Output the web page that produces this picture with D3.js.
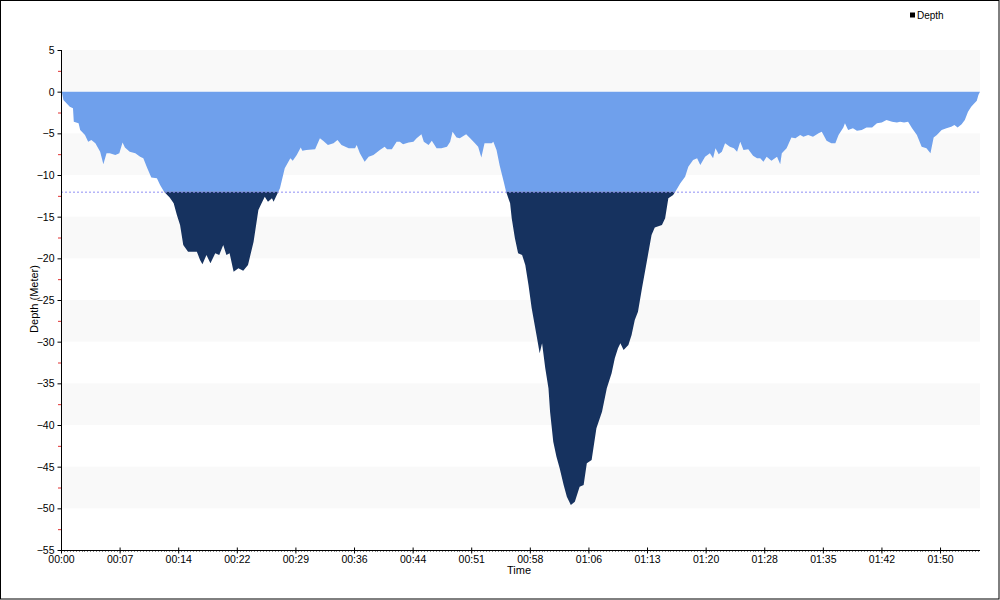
<!DOCTYPE html>
<html>
<head>
<meta charset="utf-8">
<script src="https://cdn.jsdelivr.net/npm/d3@7"></script>
<style>
  body { margin: 0; background: #fff; }
  svg { display: block; font-family: "Liberation Sans", Arial, sans-serif; }
</style>
</head>
<body>
<svg id="chart" width="1000" height="600"></svg>
<script>
// ---- data (time in minutes, depth in meters) ----
const timeMin = [0,0.1,0.3,1.1,1.5,1.6,2.2,2.4,3.0,3.4,3.8,4.3,4.9,5.3,5.7,6.1,6.8,7.3,7.7,8.0,8.6,9.3,9.9,10.3,10.8,11.3,12.0,12.4,12.9,13.6,14.1,14.5,14.9,15.3,15.9,17.0,17.4,17.7,18.2,18.7,19.3,19.8,20.3,20.7,21.1,21.6,22.2,22.8,23.4,24.1,24.7,25.1,25.5,25.9,26.4,26.6,27.0,27.4,28.0,28.7,29.0,29.5,30.0,30.2,30.7,31.8,32.4,32.8,33.4,34.1,34.6,35.1,36.0,36.8,37.0,37.4,38.0,38.5,39.1,39.9,40.5,40.8,41.4,42.0,42.4,42.8,43.5,44.1,44.5,45.1,45.4,46.0,46.4,47.0,47.6,48.3,48.7,49.0,49.5,49.9,50.7,51.2,51.8,52.2,52.6,53.0,53.9,54.1,54.5,54.9,55.4,55.7,56.2,56.4,56.8,57.2,57.7,58.1,58.5,58.9,59.5,59.9,60.2,60.6,61.0,61.2,61.6,62.0,62.4,62.9,63.3,63.8,64.3,64.9,65.4,65.8,66.4,67.0,67.7,68.3,68.9,69.3,69.7,70.0,70.4,71.0,71.4,71.8,72.2,72.7,73.3,73.9,74.3,75.2,75.6,76.0,76.6,77.0,77.5,78.1,78.5,79.1,79.6,80.0,80.6,81.2,81.6,81.9,82.3,82.7,83.1,83.7,84.2,84.6,85.0,85.4,86.0,86.6,87.1,87.5,87.9,88.3,88.9,89.6,90.0,90.2,90.8,91.4,91.9,92.5,92.9,93.5,94.1,94.8,95.2,95.8,96.4,96.9,97.3,97.9,98.1,98.5,99.1,99.6,100.2,100.8,101.5,102.1,102.7,103.3,104.0,104.6,105.0,105.5,106.0,106.5,107.1,107.7,108.3,108.8,109.2,109.6,110.2,110.8,111.4,111.8,112.2,112.7,113.1,113.5,113.9,114.3,114.6,114.8,115.0];
const depthM = [0,0,-1.0,-1.8,-2.0,-3.6,-3.8,-4.6,-5.2,-6.0,-5.8,-6.2,-7.2,-8.7,-7.4,-7.4,-7.6,-7.4,-6.1,-6.7,-7.2,-7.4,-7.8,-8.0,-9.2,-10.3,-10.4,-11.2,-12.0,-12.7,-13.4,-14.8,-16.0,-18.4,-19.2,-19.2,-20.2,-20.7,-19.6,-20.6,-19.4,-19.6,-18.4,-19.6,-19.4,-21.6,-21.2,-21.5,-20.8,-18.0,-14.2,-13.4,-12.6,-13.2,-12.8,-13.2,-12.4,-11.6,-9.2,-8.0,-8.3,-7.6,-6.7,-7.1,-7.0,-6.9,-5.6,-5.9,-6.4,-6.2,-5.8,-6.4,-6.8,-6.8,-6.4,-7.4,-8.4,-7.8,-7.6,-7.0,-6.6,-6.9,-6.9,-6.0,-6.0,-6.3,-6.1,-6.0,-5.6,-5.1,-6.0,-6.4,-5.9,-6.8,-6.8,-6.6,-6.0,-4.8,-5.5,-5.6,-5.1,-5.6,-6.2,-6.6,-7.9,-6.2,-6.2,-6.0,-7.0,-8.9,-10.8,-12.0,-13.4,-15.2,-17.6,-19.4,-19.6,-20.8,-23.2,-26.0,-29.2,-31.4,-30.2,-33.2,-35.6,-38.4,-42.0,-43.8,-45.2,-47.2,-48.6,-49.6,-49.2,-47.4,-47.2,-44.6,-44.2,-40.4,-38.4,-35.6,-33.8,-32.0,-30.8,-30.2,-31.0,-30.4,-29.2,-27.4,-26.4,-23.6,-20.4,-17.2,-16.3,-16.0,-15.2,-12.8,-12.4,-11.8,-11.0,-10.2,-9.0,-8.2,-8.0,-8.8,-7.8,-7.4,-8.0,-6.8,-7.5,-7.2,-6.2,-6.6,-6.8,-7.2,-6.0,-7.0,-6.9,-7.7,-8.0,-8.0,-8.4,-7.8,-8.3,-7.8,-8.7,-7.4,-6.8,-5.5,-5.6,-5.2,-5.4,-5.2,-5.4,-5.0,-4.8,-5.9,-6.2,-6.2,-5.2,-4.3,-3.8,-4.6,-4.4,-4.7,-4.6,-4.3,-4.3,-3.8,-3.7,-3.4,-3.6,-3.7,-3.6,-3.7,-3.6,-4.4,-5.2,-6.6,-6.8,-7.4,-5.5,-5.2,-4.6,-4.4,-4.2,-4.0,-4.3,-3.9,-3.4,-2.4,-1.8,-1.4,-1.1,-0.4,0];
const threshold = -12;
const xTickMinutes = [0, 7.333, 14.667, 22, 29.333, 36.667, 44, 51.333, 58.667, 66, 73.333, 80.667, 88, 95.333, 102.667, 110];
const xTickLabels = ["00:00","00:07","00:14","00:22","00:29","00:36","00:44","00:51","00:58","01:06","01:13","01:20","01:28","01:35","01:42","01:50"];
const yTicks = [5,0,-5,-10,-15,-20,-25,-30,-35,-40,-45,-50,-55];
const yMinorTicks = [2.5,-2.5,-7.5,-12.5,-17.5,-22.5,-27.5,-32.5,-37.5,-42.5,-47.5,-52.5];
const bandRanges = [[5,0],[-5,-10],[-15,-20],[-25,-30],[-35,-40],[-45,-50]];

const data = timeMin.map((t, i) => ({ t, d: depthM[i] }));

const svg = d3.select("#chart");
const L = 61, R = 980, T = 50, B = 550;
const x = d3.scaleLinear().domain([0, 115]).range([L, R]);
const y = d3.scaleLinear().domain([5, -55]).range([T, B]);

// outer border
svg.append("rect").attr("x", 0.5).attr("y", 0.5).attr("width", 998.5).attr("height", 598.5)
  .attr("fill", "#fff").attr("stroke", "#000").attr("stroke-width", 1);

// bands
svg.append("g").selectAll("rect").data(bandRanges).join("rect")
  .attr("x", L).attr("width", R - L)
  .attr("y", d => y(d[0])).attr("height", d => y(d[1]) - y(d[0]))
  .attr("fill", "#f9f9f9");

// clips
const defs = svg.append("defs");
defs.append("clipPath").attr("id", "above").append("rect")
  .attr("x", L).attr("y", T).attr("width", R - L).attr("height", y(threshold) - T);
defs.append("clipPath").attr("id", "below").append("rect")
  .attr("x", L).attr("y", y(threshold)).attr("width", R - L).attr("height", B - y(threshold));

const area = d3.area().x(d => x(d.t)).y0(y(0)).y1(d => y(d.d));
svg.append("path").datum(data).attr("d", area).attr("fill", "#6fa0ec").attr("clip-path", "url(#above)");
svg.append("path").datum(data).attr("d", area).attr("fill", "#16325f").attr("clip-path", "url(#below)");

// threshold line
svg.append("line").attr("x1", L).attr("x2", R).attr("y1", y(threshold) + 0.5).attr("y2", y(threshold) + 0.5)
  .attr("stroke", "#8f8ff5").attr("stroke-width", 1).attr("stroke-dasharray", "2,2");

// y axis
const yAxis = d3.axisLeft(y).tickValues(yTicks).tickSize(4).tickPadding(3).tickFormat(d3.format("d"));
const gy = svg.append("g").attr("transform", `translate(${L + 0.5},0)`).call(yAxis);
gy.select(".domain").attr("d", `M0,${T}V${B}`).attr("stroke", "#000");
gy.selectAll(".tick line").attr("stroke", "#000");
gy.selectAll(".tick text").attr("font-size", 10.5).attr("fill", "#000")
  .attr("font-family", "'Liberation Sans', Arial, sans-serif");
svg.append("g").selectAll("line").data(yMinorTicks).join("line")
  .attr("x1", L - 3).attr("x2", L).attr("y1", d => y(d) + 0.5).attr("y2", d => y(d) + 0.5)
  .attr("stroke", "#e03030");

// x axis minor ticks
const minorX = d3.range(0, 115, 7.3333 / 20);
svg.append("g").selectAll("line").data(minorX).join("line")
  .attr("x1", d => Math.round(x(d)) + 0.5).attr("x2", d => Math.round(x(d)) + 0.5)
  .attr("y1", B).attr("y2", B + 2).attr("stroke", "#888");

const xAxis = d3.axisBottom(x).tickValues(xTickMinutes).tickSize(3).tickPadding(2)
  .tickFormat((d, i) => xTickLabels[i]);
const gx = svg.append("g").attr("transform", `translate(0,${B + 0.5})`).call(xAxis);
gx.select(".domain").attr("d", `M${L},0H${R}`).attr("stroke", "#000");
gx.selectAll(".tick line").attr("y1", -3).attr("y2", 3).attr("stroke", "#000");
gx.selectAll(".tick text").attr("font-size", 10.5).attr("fill", "#000")
  .attr("font-family", "'Liberation Sans', Arial, sans-serif");

// axis titles
svg.append("text").attr("x", 519).attr("y", 574).attr("text-anchor", "middle")
  .attr("font-size", 11).text("Time");
svg.append("text").attr("transform", "translate(38,299) rotate(-90)").attr("text-anchor", "middle")
  .attr("font-size", 11).text("Depth (Meter)");

// legend
svg.append("rect").attr("x", 910).attr("y", 12.5).attr("width", 5).attr("height", 5).attr("fill", "#000");
svg.append("text").attr("x", 917).attr("y", 19).attr("font-size", 10).text("Depth");
</script>
</body>
</html>
